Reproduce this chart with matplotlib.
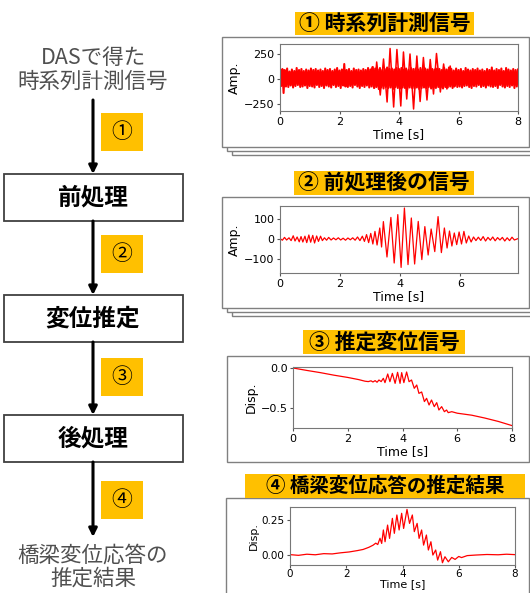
import numpy as np
import matplotlib.pyplot as plt
from matplotlib.patches import Rectangle

plt.rcParams['font.family'] = ['DejaVu Sans', 'Noto Sans CJK JP']
JP = ['Noto Sans CJK JP', 'DejaVu Sans']

W, H = 530, 593
ORANGE = '#FFC000'

# フローチャートの文言
flow_top = 'DASで得た\n時系列計測信号'
flow_steps = ['前処理', '変位推定', '後処理']
flow_marks = ['①', '②', '③', '④']
flow_bottom = '橋梁変位応答の\n推定結果'
panel_titles = ['① 時系列計測信号', '② 前処理後の信号', '③ 推定変位信号',
                '④ 橋梁変位応答の推定結果']

# ① 時系列計測信号 : ノイズ帯 (0.04 s 刻み) と振動部分の山谷
raw_dt = 0.04
raw_noise = [
    85, -70, 100, -140, 90, -75, 105, -80, 75, -65,
    95, -85, 80, -70, 110, -60, 90, -80, 100, -75,
    80, -65, 95, -90, 85, -70, 105, -75, 90, -85,
    100, -60, 85, -80, 95, -70, 80, -90, 105, -65,
    90, -75, 100, -85, 80, -60, 95, -80, 110, -70,
    85, -90, 95, -65, 150, -75, 90, -80, 100, -70,
    80, -85, 105, -60, 90, -75, 95, -90, 85, -70,
    100, -80, 90, -65, 110, -85, 95, -75, 120, -90,
    105, -80, 95, -100, 110, -85, 90, -95, 100, -80,
    115, -90, 100, -85, 105, -100, 95, -80, 110, -90,
    100, -95, 110, -85, 95, -90, 105, -100, 90, -85,
    110, -90, 100, -95, 105, -85, 95, -100, 110, -90,
    100, -85, 105, -90, 95, -80, 110, -95, 100, -85,
    95, -90, 105, -80, 100, -85, 90, -95, 110, -80,
    95, -85, 115, -75, 100, -90, 85, -70, 105, -80,
    90, -75, 100, -85, 80, -70, 110, -65, 95, -80,
    85, -90, 100, -70, 90, -75, 105, -60, 85, -80,
    95, -70, 80, -85, 100, -65, 90, -75, 115, -80,
    85, -70, 100, -90, 90, -60, 105, -75, 80, -85,
    110, -70, 95, -80, 85, -65, 100, -90, 90, -75,
    95,
]
raw_burst_t = [3.00, 3.10, 3.18, 3.25, 3.37, 3.48, 3.60, 3.70, 3.82, 3.93,
               4.06, 4.15, 4.26, 4.37, 4.49, 4.60, 4.71, 4.82, 4.94, 5.05,
               5.16, 5.26, 5.39, 5.50, 5.61, 5.72, 5.85, 5.95]
raw_burst_v = [0, 120, -90, 170, -160, 200, -230, 305, -280, 295,
               -270, 270, -200, 250, -300, 230, -225, 215, -210, 195,
               -150, 255, -130, 150, -100, 130, -80, 0]

# ② 前処理後の信号
pre_t = [0.00, 0.08, 0.15, 0.22, 0.30, 0.37, 0.44, 0.50, 0.57, 0.64,
         0.70, 0.76, 0.83, 0.89, 0.96, 1.02, 1.09, 1.15, 1.22, 1.28,
         1.35, 1.41, 1.48, 1.55, 1.62, 1.70, 1.78, 1.86, 1.94, 2.02,
         2.10, 2.18, 2.26, 2.34, 2.42, 2.50, 2.58, 2.66, 2.74, 2.81,
         2.88, 2.95, 3.02, 3.09, 3.16, 3.23, 3.32, 3.38, 3.44, 3.56,
         3.69, 3.80, 3.92, 4.03, 4.14, 4.26, 4.37, 4.48, 4.60, 4.72,
         4.82, 4.93, 5.03, 5.15, 5.26, 5.37, 5.47, 5.56, 5.64, 5.72,
         5.80, 5.88, 5.96, 6.04, 6.12, 6.20, 6.28, 6.36, 6.44, 6.52,
         6.60, 6.68, 6.76, 6.84, 6.92, 7.00, 7.08, 7.16, 7.24, 7.32,
         7.40, 7.48, 7.56, 7.64, 7.72, 7.80, 7.92]
pre_v = [2, -6, 8, -5, 6, -8, 16, -10, 10, -14,
         12, -15, 14, -18, 20, -16, 18, -20, 15, -12,
         14, -8, 6, -6, 8, -5, 5, -4, 6, -5,
         4, -6, 5, -4, 6, -6, 10, -8, 14, -12,
         22, -18, 28, -25, 38, -30, 55, -40, 87, -90,
         108, -120, 122, -142, 155, -128, 105, -125, 88, -103,
         62, -80, 50, -63, 112, -68, 55, -45, 40, -35,
         30, -28, 35, -25, 38, -20, 15, -15, 10, -8,
         9, -7, 12, -10, 8, -6, 10, -9, 7, -5,
         8, -10, 6, -8, 9, -5, 2]

# ③ 推定変位信号
disp_t = [0.00, 0.50, 1.00, 1.50, 2.00, 2.40, 2.63, 2.75, 2.85, 2.92,
          3.00, 3.07, 3.14, 3.22, 3.30, 3.36, 3.46, 3.54, 3.63, 3.73,
          3.82, 3.91, 3.97, 4.05, 4.15, 4.24, 4.33, 4.43, 4.52, 4.60,
          4.70, 4.80, 4.88, 4.97, 5.06, 5.16, 5.25, 5.33, 5.43, 5.53,
          5.61, 5.67, 5.80, 6.00, 6.53, 7.00, 7.50, 8.00]
disp_v = [0.0, -0.03, -0.058, -0.09, -0.118, -0.145, -0.165, -0.17, -0.16, -0.175,
          -0.158, -0.178, -0.15, -0.17, -0.129, -0.183, -0.075, -0.171, -0.067, -0.192,
          -0.054, -0.192, -0.058, -0.183, -0.05, -0.171, -0.15, -0.254, -0.2125, -0.317,
          -0.30, -0.42, -0.379, -0.4625, -0.40, -0.483, -0.433, -0.525, -0.483, -0.546,
          -0.525, -0.558, -0.546, -0.565, -0.59, -0.625, -0.668, -0.72]

# ④ 橋梁変位応答の推定結果
post_t = [0.00, 0.30, 0.60, 0.90, 1.20, 1.50, 1.80, 2.10, 2.40, 2.60,
          2.80, 2.95, 3.05, 3.12, 3.20, 3.26, 3.32, 3.38, 3.47, 3.54,
          3.64, 3.71, 3.80, 3.88, 3.97, 4.04, 4.16, 4.25, 4.35, 4.42,
          4.52, 4.59, 4.68, 4.75, 4.85, 4.92, 5.01, 5.08, 5.18, 5.25,
          5.35, 5.42, 5.51, 5.63, 5.75, 5.87, 6.00, 6.10, 6.30, 6.60,
          7.00, 7.40, 7.70, 8.00]
post_v = [0.003, -0.002, 0.006, 0.002, 0.01, 0.008, 0.016, 0.022, 0.032, 0.04,
          0.055, 0.07, 0.085, 0.075, 0.12, 0.083, 0.179, 0.095, 0.214, 0.119,
          0.262, 0.155, 0.286, 0.179, 0.298, 0.19, 0.326, 0.226, 0.286, 0.167,
          0.226, 0.119, 0.179, 0.071, 0.143, 0.036, 0.095, 0.0, 0.036, -0.036,
          0.024, -0.055, -0.012, -0.048, -0.017, -0.031, -0.01, -0.018, -0.004, 0.0,
          0.004, 0.002, 0.006, 0.003]

fig = plt.figure(figsize=(W / 100, H / 100), dpi=100)
bg = fig.add_axes([0, 0, 1, 1], zorder=0)
bg.set_xlim(0, W)
bg.set_ylim(H, 0)
bg.axis('off')


def px_axes(x0, y0, x1, y1):
    return fig.add_axes([x0 / W, 1 - y1 / H, (x1 - x0) / W, (y1 - y0) / H], zorder=3)


# --- 左側のフロー ---
cx = 93
bg.text(cx, 70, flow_top, ha='center', va='center', fontsize=15.5,
        color='#505050', family=JP, linespacing=1.08)
bg.text(cx, 567, flow_bottom, ha='center', va='center', fontsize=15.5,
        color='#505050', family=JP, linespacing=1.08)

box_y = [(174, 221), (295, 342), (415, 462)]
for (y0, y1), label in zip(box_y, flow_steps):
    bg.add_patch(Rectangle((4, y0), 179, y1 - y0, facecolor='white',
                           edgecolor='#404040', lw=1.3))
    bg.text(cx, (y0 + y1) / 2, label, ha='center', va='center', fontsize=17,
            fontweight='bold', family=JP)

arrow_y = [(100, 174), (221, 295), (342, 415), (462, 537)]
for y0, y1 in arrow_y:
    bg.annotate('', xy=(cx, y1), xytext=(cx, y0),
                arrowprops=dict(arrowstyle='-|>', lw=2.2, color='black',
                                mutation_scale=12, shrinkA=0, shrinkB=0))

mark_y = [113, 235, 358, 481]
for y0, m in zip(mark_y, flow_marks):
    bg.add_patch(Rectangle((101, y0), 42, 38, facecolor=ORANGE, edgecolor='none'))
    bg.text(122, y0 + 19, m, ha='center', va='center', fontsize=15, family=JP)

# --- 右側のパネル枠とタイトル ---
frames = [(222, 37, 529, 147), (222, 197, 529, 308),
          (227, 356, 529, 462), (226, 498, 529, 610)]
stacked = [True, True, False, False]
title_boxes = [(295, 12, 474, 35), (294, 171, 474, 195),
               (303, 330, 465, 354), (245, 474, 525, 498)]
title_sizes = [15, 15, 15, 14]

for (x0, y0, x1, y1), st in zip(frames, stacked):
    if st:
        for dx, dy in [(10, 8), (5, 4)]:
            bg.add_patch(Rectangle((x0 + dx, y0 + dy), x1 - x0 + 10, y1 - y0,
                                   facecolor='white', edgecolor='#808080', lw=1))
    bg.add_patch(Rectangle((x0, y0), x1 - x0, y1 - y0, facecolor='white',
                           edgecolor='#808080', lw=1))

for (x0, y0, x1, y1), title, fs in zip(title_boxes, panel_titles, title_sizes):
    bg.add_patch(Rectangle((x0, y0), x1 - x0, y1 - y0, facecolor=ORANGE,
                           edgecolor='none'))
    bg.text((x0 + x1) / 2, (y0 + y1) / 2, title, ha='center', va='center',
            fontsize=fs, fontweight='bold', family=JP)


def style(ax, ylabel, xticks, yticks, fs_tick=8, fs_lab=9):
    ax.set_xticks(xticks)
    ax.set_yticks(yticks)
    ax.tick_params(labelsize=fs_tick, length=2.5, pad=1.5, color='#555555')
    ax.set_xlabel('Time [s]', fontsize=fs_lab, labelpad=1)
    ax.set_ylabel(ylabel, fontsize=fs_lab, labelpad=2)
    for sp in ax.spines.values():
        sp.set_color('#777777')
        sp.set_linewidth(0.8)


# ①
ax1 = px_axes(280, 44, 518, 111)
t_raw = np.arange(len(raw_noise)) * raw_dt
ax1.plot(t_raw, raw_noise, color='red', lw=1.5)
ax1.plot(raw_burst_t, raw_burst_v, color='red', lw=1.1)
ax1.set_xlim(0, 8)
ax1.set_ylim(-320, 350)
style(ax1, 'Amp.', [0, 2, 4, 6, 8], [-250, 0, 250])

# ②
ax2 = px_axes(280, 206, 518, 273)
ax2.plot(pre_t, pre_v, color='red', lw=0.9)
ax2.set_xlim(0, 7.92)
ax2.set_ylim(-170, 165)
style(ax2, 'Amp.', [0, 2, 4, 6], [-100, 0, 100])

# ③
ax3 = px_axes(293, 367, 512, 428)
ax3.plot(disp_t, disp_v, color='red', lw=0.9)
ax3.set_xlim(0, 8)
ax3.set_ylim(-0.75, 0.0125)
style(ax3, 'Disp.', [0, 2, 4, 6, 8], [-0.5, 0.0])

# ④
ax4 = px_axes(290, 507, 515, 565)
ax4.plot(post_t, post_v, color='red', lw=0.9)
ax4.set_xlim(0, 8)
ax4.set_ylim(-0.071, 0.343)
style(ax4, 'Disp.', [0, 2, 4, 6, 8], [0.0, 0.25], fs_tick=7.5, fs_lab=8)
ax4.tick_params(axis='x', length=2, pad=1)
ax4.xaxis.set_label_coords(0.5, -0.235)

fig.savefig('out.png', dpi=100)
